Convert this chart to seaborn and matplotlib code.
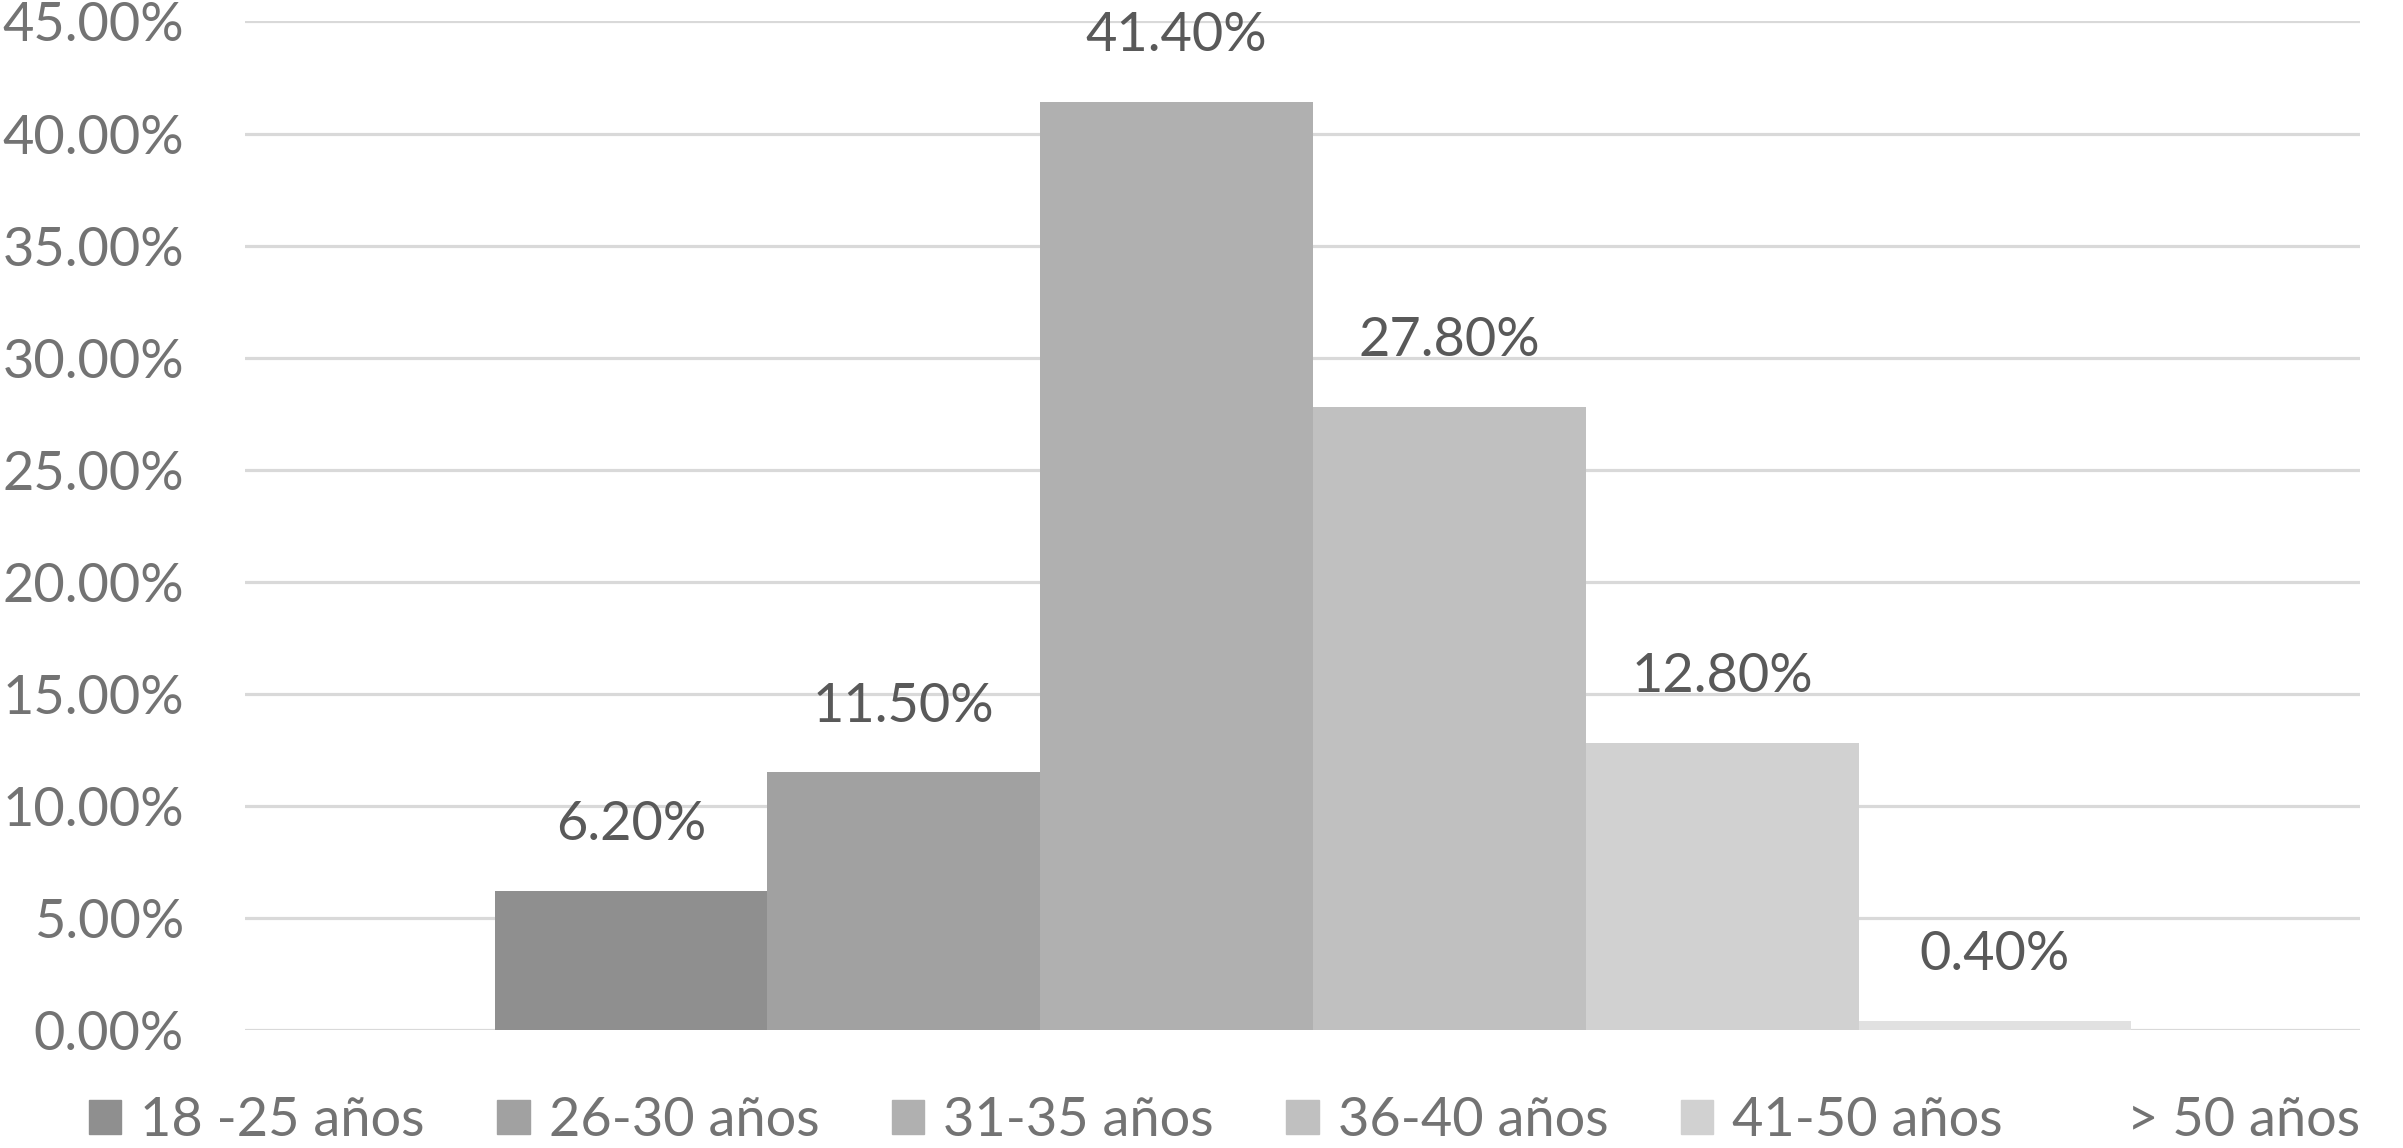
import matplotlib
matplotlib.use('Agg')
import matplotlib.pyplot as plt
import seaborn as sns
import pandas as pd

# datos del gráfico
grupos_edad = ['18 -25 años', '26-30 años', '31-35 años', '36-40 años', '41-50 años', '> 50 años']
porcentajes = [6.2, 11.5, 41.4, 27.8, 12.8, 0.4]
colores = ['#8f8f8f', '#a1a1a1', '#b0b0b0', '#c0c0c0', '#d1d1d1', '#e1e1e1']
ticks_y = [0, 5, 10, 15, 20, 25, 30, 35, 40, 45]

sns.set_theme(style='white')
plt.rcParams['font.family'] = ['Lato', 'DejaVu Sans']

df = pd.DataFrame({'grupo': [''] * len(grupos_edad), 'edad': grupos_edad, 'pct': porcentajes})

fig = plt.figure(figsize=(24.03, 11.48), dpi=100)
ax = fig.add_axes([0.102, 0.1028, 0.880, 0.8785])

sns.barplot(data=df, x='grupo', y='pct', hue='edad', hue_order=grupos_edad,
            palette=colores, saturation=1, width=0.774, gap=0, dodge=True,
            legend=False, linewidth=0, ax=ax)

for cont in ax.containers:
    ax.bar_label(cont, fmt='%.2f%%', padding=30, fontsize=39, color='#595959')

ax.set_xlim(-0.505, 0.495)
ax.set_ylim(0, 45)
ax.set_yticks(ticks_y)
ax.set_yticklabels([f'{t:.2f}%' for t in ticks_y])
ax.set_xlabel('')
ax.set_ylabel('')
ax.set_xticks([])
ax.tick_params(axis='y', length=0, pad=44, labelsize=39, labelcolor='#737373')
ax.yaxis.grid(True, color='#d9d9d9', linewidth=2.3)
ax.set_axisbelow(True)
for s in ax.spines.values():
    s.set_visible(False)

# leyenda abajo; el cuadro de "> 50 años" queda en blanco como en el original
handles = [plt.Rectangle((0, 0), 1, 1, color=c) for c in colores[:-1]]
handles.append(plt.Rectangle((0, 0), 1, 1, color='white'))
fig.legend(handles, grupos_edad, loc='center', ncol=6, frameon=False,
           bbox_to_anchor=(0.037, 0.0, 0.945, 0.048), mode='expand',
           fontsize=39, labelcolor='#737373', handlelength=0.6, handleheight=0.6,
           handletextpad=0.35, borderpad=0, borderaxespad=0)

fig.savefig('out.png', dpi=100)
